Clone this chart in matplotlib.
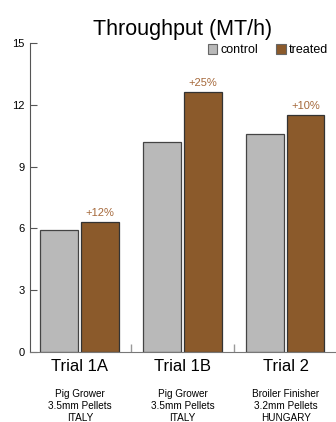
import numpy as np
import matplotlib.pyplot as plt
import matplotlib.transforms as mtransforms

plt.rcParams["font.family"] = ["Liberation Sans", "DejaVu Sans"]

trials = ["Trial 1A", "Trial 1B", "Trial 2"]
details = ["Pig Grower\n3.5mm Pellets\nITALY",
           "Pig Grower\n3.5mm Pellets\nITALY",
           "Broiler Finisher\n3.2mm Pellets\nHUNGARY"]
control = [5.9, 10.2, 10.6]
treated = [6.3, 12.6, 11.5]
gains = ["+12%", "+25%", "+10%"]

grey = "#b9b9b9"
brown = "#8b5a2b"
label_brown = "#a5683a"

fig = plt.figure(figsize=(3.36, 4.22), dpi=100)
ax = fig.add_axes([0.089, 0.166, 0.911, 0.732])

x = np.arange(len(trials))
w = 0.365
ax.bar(x - 0.2, control, w, color=grey, edgecolor="#444444", linewidth=0.9, label="control")
ax.bar(x + 0.195, treated, w, color=brown, edgecolor="#333333", linewidth=0.9, label="treated")

for xi, v, g in zip(x, treated, gains):
    ax.text(xi + 0.195, v + 0.2, g, ha="center", va="bottom", fontsize=8, color=label_brown)

ax.set_xlim(-0.485, 2.49)
ax.set_ylim(0, 15)
ax.set_yticks([0, 3, 6, 9, 12, 15])
ax.tick_params(axis="y", direction="in", length=5, width=0.8, color="#555555",
               labelsize=8, pad=4)
ax.set_xticks([0.5, 1.5])
ax.set_xticklabels([])
ax.tick_params(axis="x", direction="in", length=6, width=1, color="#999999")

for s in ["top", "right"]:
    ax.spines[s].set_visible(False)
ax.spines["left"].set_color("#555555")
ax.spines["left"].set_linewidth(0.8)
ax.spines["bottom"].set_color("#777777")
ax.spines["bottom"].set_linewidth(0.8)

trans = mtransforms.blended_transform_factory(ax.transData, ax.transAxes)
for xi, t, d in zip(x, trials, details):
    ax.text(xi, -0.048, t, transform=trans, ha="center", va="center", fontsize=12)
    ax.text(xi, -0.121, d, transform=trans, ha="center", va="top", fontsize=7.2,
            linespacing=1.2)

ax.set_title("Throughput (MT/h)", fontsize=15.5, pad=6)

leg = ax.legend(loc="upper right", bbox_to_anchor=(1.0, 1.02), ncol=2, frameon=False,
                fontsize=9, handlelength=0.75, handleheight=0.75, handletextpad=0.3,
                columnspacing=1.4, borderaxespad=0.2)
for h in leg.legend_handles:
    h.set_edgecolor("#666666")
    h.set_linewidth(0.8)

fig.savefig("out.png", dpi=100)
